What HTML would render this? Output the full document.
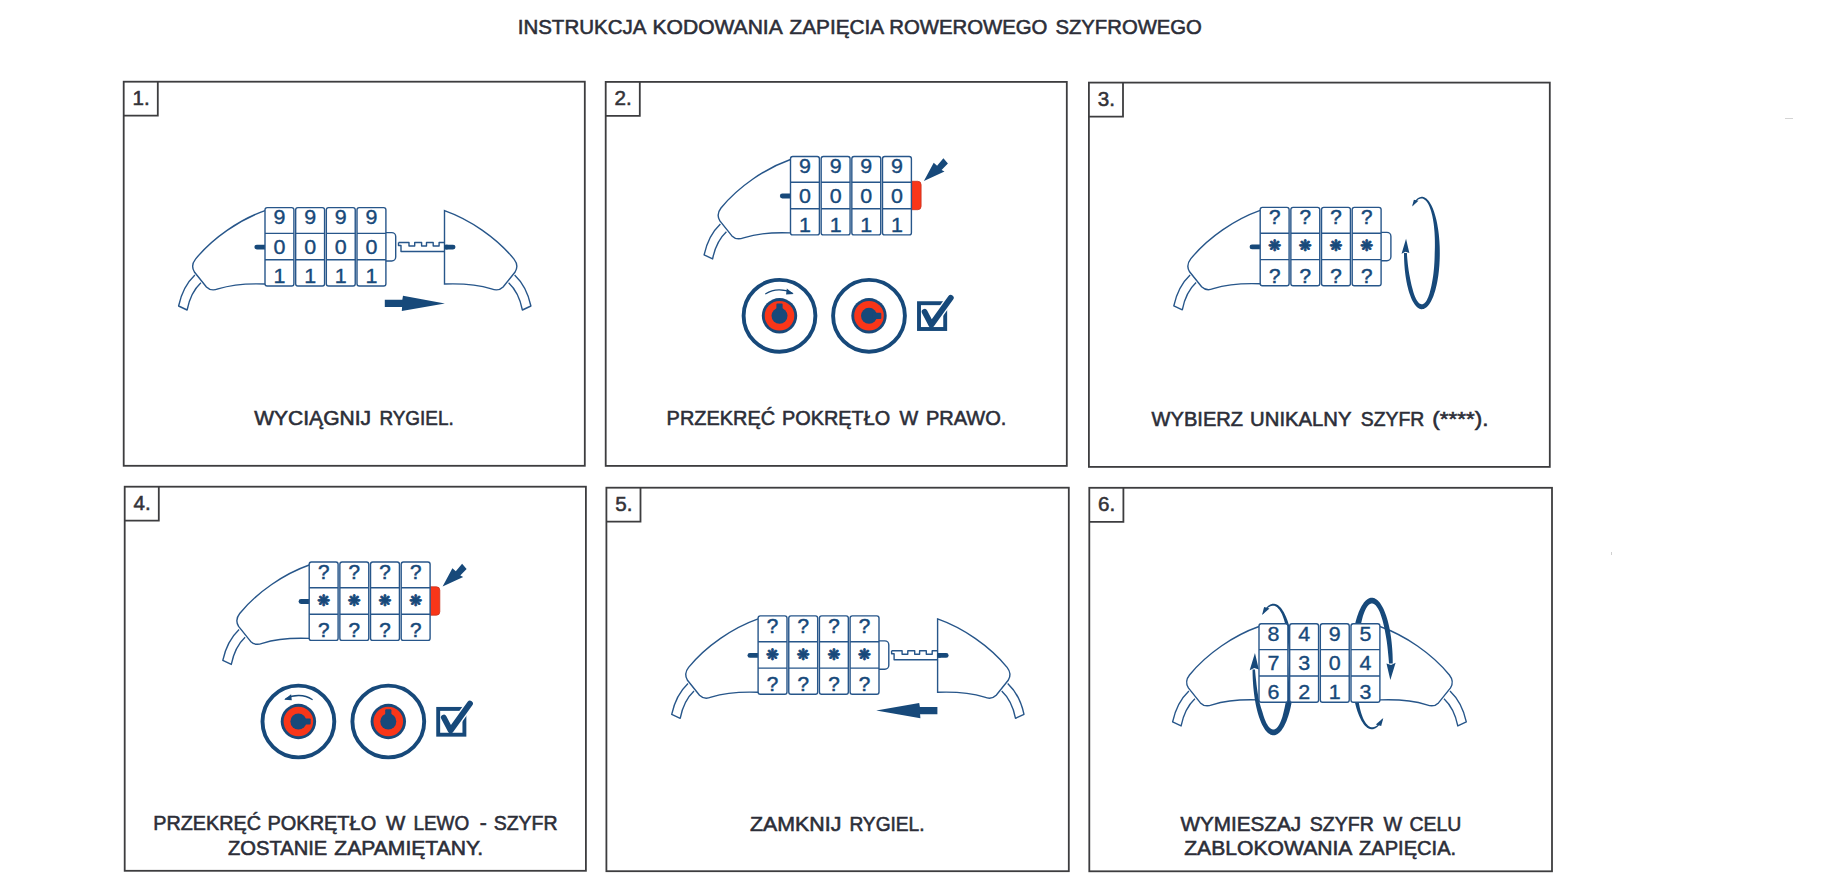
<!DOCTYPE html>
<html lang="pl"><head><meta charset="utf-8"><title>Instrukcja kodowania zapięcia rowerowego szyfrowego</title>
<style>html,body{margin:0;padding:0;background:#fff}body{width:1848px;height:876px;overflow:hidden}svg{display:block}</style>
</head><body>
<svg width="1848" height="876" viewBox="0 0 1848 876" font-family="'Liberation Sans', sans-serif">
<rect width="1848" height="876" fill="#fff"/>
<text y="33.9" font-size="19.8" font-weight="normal" fill="#2c2e38" stroke="#2c2e38" stroke-width="0.55"><tspan x="517.7" textLength="127.6" lengthAdjust="spacingAndGlyphs">INSTRUKCJA</tspan> <tspan x="652.5" textLength="129.1" lengthAdjust="spacingAndGlyphs">KODOWANIA</tspan> <tspan x="789.5" textLength="93.5" lengthAdjust="spacingAndGlyphs">ZAPIĘCIA</tspan> <tspan x="889.2" textLength="158.2" lengthAdjust="spacingAndGlyphs">ROWEROWEGO</tspan> <tspan x="1055.4" textLength="146.5" lengthAdjust="spacingAndGlyphs">SZYFROWEGO</tspan></text>
<rect x="123.7" y="81.7" width="461.1" height="384.1" fill="none" stroke="#3d3d3f" stroke-width="1.8"/>
<path d="M157.8,81.7 v34 h-34.1" fill="none" stroke="#3d3d3f" stroke-width="1.8"/>
<text x="141.1" y="105.1" font-size="20.6" text-anchor="middle" fill="#333338" stroke="#333338" stroke-width="0.55">1.</text>
<rect x="605.7" y="81.9" width="461.1" height="384" fill="none" stroke="#3d3d3f" stroke-width="1.8"/>
<path d="M639.8,81.9 v34 h-34.1" fill="none" stroke="#3d3d3f" stroke-width="1.8"/>
<text x="623.1" y="105.3" font-size="20.6" text-anchor="middle" fill="#333338" stroke="#333338" stroke-width="0.55">2.</text>
<rect x="1088.9" y="82.6" width="460.9" height="384.3" fill="none" stroke="#3d3d3f" stroke-width="1.8"/>
<path d="M1123,82.6 v34 h-34.1" fill="none" stroke="#3d3d3f" stroke-width="1.8"/>
<text x="1106.3" y="106" font-size="20.6" text-anchor="middle" fill="#333338" stroke="#333338" stroke-width="0.55">3.</text>
<rect x="124.7" y="486.7" width="461.2" height="384.1" fill="none" stroke="#3d3d3f" stroke-width="1.8"/>
<path d="M158.8,486.7 v34 h-34.1" fill="none" stroke="#3d3d3f" stroke-width="1.8"/>
<text x="142.1" y="510.1" font-size="20.6" text-anchor="middle" fill="#333338" stroke="#333338" stroke-width="0.55">4.</text>
<rect x="606.4" y="487.7" width="462.4" height="383.5" fill="none" stroke="#3d3d3f" stroke-width="1.8"/>
<path d="M640.5,487.7 v34 h-34.1" fill="none" stroke="#3d3d3f" stroke-width="1.8"/>
<text x="623.8" y="511.1" font-size="20.6" text-anchor="middle" fill="#333338" stroke="#333338" stroke-width="0.55">5.</text>
<rect x="1089.3" y="487.8" width="462.7" height="383.5" fill="none" stroke="#3d3d3f" stroke-width="1.8"/>
<path d="M1123.4,487.8 v34 h-34.1" fill="none" stroke="#3d3d3f" stroke-width="1.8"/>
<text x="1106.7" y="511.2" font-size="20.6" text-anchor="middle" fill="#333338" stroke="#333338" stroke-width="0.55">6.</text>
<g transform="translate(265,207.6)">
<path d="M-70.1,67.5 Q-82.2,78.9 -86.4,98.4 L-77.9,102.4 Q-74.4,84.8 -64.1,75.2" fill="#fff" stroke="#27568a" stroke-width="1.4" stroke-linejoin="round"/>
<path d="M0,3 C-25,11.8 -52,30 -69.5,51.5 Q-74.6,58 -70.6,64.4 L-58.6,79.4 Q-54,84 -47,81.3 C-32,76.6 -15,75.8 0,76.4" fill="#fff" stroke="#27568a" stroke-width="1.4"/>
<path d="M-8.2,39.5 H0" stroke="#17497a" stroke-width="4.8" stroke-linecap="round"/>
<g transform="translate(179.5,0) scale(-1,1)">
<path d="M-70.1,67.5 Q-82.2,78.9 -86.4,98.4 L-77.9,102.4 Q-74.4,84.8 -64.1,75.2" fill="#fff" stroke="#27568a" stroke-width="1.4" stroke-linejoin="round"/>
<path d="M0,3 C-25,11.8 -52,30 -69.5,51.5 Q-74.6,58 -70.6,64.4 L-58.6,79.4 Q-54,84 -47,81.3 C-32,76.6 -15,75.8 0,76.4 Z" fill="#fff" stroke="#27568a" stroke-width="1.4" stroke-linejoin="miter"/>
<path d="M-8.6,39.5 H-2" stroke="#17497a" stroke-width="4.8" stroke-linecap="round"/>
<path d="M-3,39.5 H0" stroke="#17497a" stroke-width="4.8"/>
</g>
<path d="M133.5,34.9 H144 V38.4 H149.7 V34.9 H156.6 V38.4 H161.5 V34.9 H168.2 V38.4 H174.1 V34.9 H179.5 M133.5,34.9 V37.9 H136 V43.9 H179.5" fill="none" stroke="#27568a" stroke-width="1.4" stroke-linejoin="round"/>
<path d="M119.9,25 H126.7 a4,4 0 0 1 4,4 V49.4 a4,4 0 0 1 -4,4 H119.9" fill="#fff" stroke="#27568a" stroke-width="1.4"/>
<rect x="0" y="0" width="28.9" height="78.4" rx="2.2" fill="#fff" stroke="#27568a" stroke-width="1.4"/>
<path d="M0,25.8 h28.9 M0,52.2 h28.9" stroke="#27568a" stroke-width="1.4"/>
<rect x="30.67" y="0" width="28.9" height="78.4" rx="2.2" fill="#fff" stroke="#27568a" stroke-width="1.4"/>
<path d="M30.67,25.8 h28.9 M30.67,52.2 h28.9" stroke="#27568a" stroke-width="1.4"/>
<rect x="61.33" y="0" width="28.9" height="78.4" rx="2.2" fill="#fff" stroke="#27568a" stroke-width="1.4"/>
<path d="M61.33,25.8 h28.9 M61.33,52.2 h28.9" stroke="#27568a" stroke-width="1.4"/>
<rect x="92" y="0" width="28.9" height="78.4" rx="2.2" fill="#fff" stroke="#27568a" stroke-width="1.4"/>
<path d="M92,25.8 h28.9 M92,52.2 h28.9" stroke="#27568a" stroke-width="1.4"/>
<text transform="translate(14.45,16.7) scale(1.1,1)" font-size="19.5" text-anchor="middle" fill="#17497a" stroke="#17497a" stroke-width="0.35">9</text>
<text transform="translate(45.12,16.7) scale(1.1,1)" font-size="19.5" text-anchor="middle" fill="#17497a" stroke="#17497a" stroke-width="0.35">9</text>
<text transform="translate(75.78,16.7) scale(1.1,1)" font-size="19.5" text-anchor="middle" fill="#17497a" stroke="#17497a" stroke-width="0.35">9</text>
<text transform="translate(106.45,16.7) scale(1.1,1)" font-size="19.5" text-anchor="middle" fill="#17497a" stroke="#17497a" stroke-width="0.35">9</text>
<text transform="translate(14.45,46.5) scale(1.1,1)" font-size="19.5" text-anchor="middle" fill="#17497a" stroke="#17497a" stroke-width="0.35">0</text>
<text transform="translate(45.12,46.5) scale(1.1,1)" font-size="19.5" text-anchor="middle" fill="#17497a" stroke="#17497a" stroke-width="0.35">0</text>
<text transform="translate(75.78,46.5) scale(1.1,1)" font-size="19.5" text-anchor="middle" fill="#17497a" stroke="#17497a" stroke-width="0.35">0</text>
<text transform="translate(106.45,46.5) scale(1.1,1)" font-size="19.5" text-anchor="middle" fill="#17497a" stroke="#17497a" stroke-width="0.35">0</text>
<text transform="translate(14.45,75.4) scale(1.1,1)" font-size="19.5" text-anchor="middle" fill="#17497a" stroke="#17497a" stroke-width="0.35">1</text>
<text transform="translate(45.12,75.4) scale(1.1,1)" font-size="19.5" text-anchor="middle" fill="#17497a" stroke="#17497a" stroke-width="0.35">1</text>
<text transform="translate(75.78,75.4) scale(1.1,1)" font-size="19.5" text-anchor="middle" fill="#17497a" stroke="#17497a" stroke-width="0.35">1</text>
<text transform="translate(106.45,75.4) scale(1.1,1)" font-size="19.5" text-anchor="middle" fill="#17497a" stroke="#17497a" stroke-width="0.35">1</text>
<polygon points="119.8,92.1 137.3,92.1 138,88.2 179.9,95.8 136.8,103.4 137.1,99.5 119.8,99.5" fill="#17497a"/>
</g>
<text y="425" font-size="19.3" font-weight="normal" fill="#2c2e38" stroke="#2c2e38" stroke-width="0.55"><tspan x="254.2" textLength="116.9" lengthAdjust="spacingAndGlyphs">WYCIĄGNIJ</tspan> <tspan x="379.4" textLength="74.3" lengthAdjust="spacingAndGlyphs">RYGIEL.</tspan></text>
<g transform="translate(790.5,156.5)">
<path d="M-70.1,67.5 Q-82.2,78.9 -86.4,98.4 L-77.9,102.4 Q-74.4,84.8 -64.1,75.2" fill="#fff" stroke="#27568a" stroke-width="1.4" stroke-linejoin="round"/>
<path d="M0,3 C-25,11.8 -52,30 -69.5,51.5 Q-74.6,58 -70.6,64.4 L-58.6,79.4 Q-54,84 -47,81.3 C-32,76.6 -15,75.8 0,76.4" fill="#fff" stroke="#27568a" stroke-width="1.4"/>
<path d="M-8.2,39.5 H0" stroke="#17497a" stroke-width="4.8" stroke-linecap="round"/>
<path d="M119.9,24.8 H127.2 a3.4,3.4 0 0 1 3.4,3.4 V49.8 a3.4,3.4 0 0 1 -3.4,3.4 H119.9 Z" fill="#f93619" stroke="#c8321f" stroke-width="0.8"/>
<rect x="0" y="0" width="28.9" height="78.4" rx="2.2" fill="#fff" stroke="#27568a" stroke-width="1.4"/>
<path d="M0,25.8 h28.9 M0,52.2 h28.9" stroke="#27568a" stroke-width="1.4"/>
<rect x="30.67" y="0" width="28.9" height="78.4" rx="2.2" fill="#fff" stroke="#27568a" stroke-width="1.4"/>
<path d="M30.67,25.8 h28.9 M30.67,52.2 h28.9" stroke="#27568a" stroke-width="1.4"/>
<rect x="61.33" y="0" width="28.9" height="78.4" rx="2.2" fill="#fff" stroke="#27568a" stroke-width="1.4"/>
<path d="M61.33,25.8 h28.9 M61.33,52.2 h28.9" stroke="#27568a" stroke-width="1.4"/>
<rect x="92" y="0" width="28.9" height="78.4" rx="2.2" fill="#fff" stroke="#27568a" stroke-width="1.4"/>
<path d="M92,25.8 h28.9 M92,52.2 h28.9" stroke="#27568a" stroke-width="1.4"/>
<text transform="translate(14.45,16.7) scale(1.1,1)" font-size="19.5" text-anchor="middle" fill="#17497a" stroke="#17497a" stroke-width="0.35">9</text>
<text transform="translate(45.12,16.7) scale(1.1,1)" font-size="19.5" text-anchor="middle" fill="#17497a" stroke="#17497a" stroke-width="0.35">9</text>
<text transform="translate(75.78,16.7) scale(1.1,1)" font-size="19.5" text-anchor="middle" fill="#17497a" stroke="#17497a" stroke-width="0.35">9</text>
<text transform="translate(106.45,16.7) scale(1.1,1)" font-size="19.5" text-anchor="middle" fill="#17497a" stroke="#17497a" stroke-width="0.35">9</text>
<text transform="translate(14.45,46.5) scale(1.1,1)" font-size="19.5" text-anchor="middle" fill="#17497a" stroke="#17497a" stroke-width="0.35">0</text>
<text transform="translate(45.12,46.5) scale(1.1,1)" font-size="19.5" text-anchor="middle" fill="#17497a" stroke="#17497a" stroke-width="0.35">0</text>
<text transform="translate(75.78,46.5) scale(1.1,1)" font-size="19.5" text-anchor="middle" fill="#17497a" stroke="#17497a" stroke-width="0.35">0</text>
<text transform="translate(106.45,46.5) scale(1.1,1)" font-size="19.5" text-anchor="middle" fill="#17497a" stroke="#17497a" stroke-width="0.35">0</text>
<text transform="translate(14.45,75.4) scale(1.1,1)" font-size="19.5" text-anchor="middle" fill="#17497a" stroke="#17497a" stroke-width="0.35">1</text>
<text transform="translate(45.12,75.4) scale(1.1,1)" font-size="19.5" text-anchor="middle" fill="#17497a" stroke="#17497a" stroke-width="0.35">1</text>
<text transform="translate(75.78,75.4) scale(1.1,1)" font-size="19.5" text-anchor="middle" fill="#17497a" stroke="#17497a" stroke-width="0.35">1</text>
<text transform="translate(106.45,75.4) scale(1.1,1)" font-size="19.5" text-anchor="middle" fill="#17497a" stroke="#17497a" stroke-width="0.35">1</text>
<polygon points="133.4,24.4 143.2,6.3 146.6,9.2 152.9,1.8 157.4,6.9 151.1,13.4 154,14.9" fill="#17497a"/>
<g transform="translate(-11,159.3)">
<circle r="35.9" fill="#fff" stroke="#17497a" stroke-width="3.9"/>
<circle r="17.7" fill="#17497a"/>
<circle r="14.8" fill="#f93619"/>
<g transform="rotate(0)"><circle r="8" fill="#17497a"/><rect x="-3.1" y="-12.3" width="6.2" height="9" rx="1" fill="#17497a"/></g>
<g><path d="M-13.78,-22.05 A26,26 0 0 1 12.61,-22.74" fill="none" stroke="#17497a" stroke-width="1.3" stroke-linecap="round"/>
<polygon points="14.2,-21.8 7.3,-27.2 6.6,-21.2" fill="#17497a"/></g>
</g>
<g transform="translate(78.5,159.3)">
<circle r="35.9" fill="#fff" stroke="#17497a" stroke-width="3.9"/>
<circle r="17.7" fill="#17497a"/>
<circle r="14.8" fill="#f93619"/>
<g transform="rotate(90)"><circle r="8" fill="#17497a"/><rect x="-3.1" y="-12.3" width="6.2" height="9" rx="1" fill="#17497a"/></g>
</g>
<g transform="translate(126.5,144.7)">
<rect x="2" y="2" width="26.2" height="25.8" fill="#fff" stroke="#17497a" stroke-width="3.9"/>
<path d="M21.6,13.6 L33.8,-3.4" fill="none" stroke="#fff" stroke-width="8.6" stroke-linecap="round"/>
<path d="M7.6,10.6 L14.4,23.6 L33.8,-3.4" fill="none" stroke="#17497a" stroke-width="5.8" stroke-linecap="round" stroke-linejoin="round"/>
</g>
</g>
<text y="425" font-size="19.3" font-weight="normal" fill="#2c2e38" stroke="#2c2e38" stroke-width="0.55"><tspan x="666.6" textLength="108.5" lengthAdjust="spacingAndGlyphs">PRZEKRĘĆ</tspan> <tspan x="782.1" textLength="108.1" lengthAdjust="spacingAndGlyphs">POKRĘTŁO</tspan> <tspan x="899.6" textLength="18.7" lengthAdjust="spacingAndGlyphs">W</tspan> <tspan x="925.9" textLength="80.5" lengthAdjust="spacingAndGlyphs">PRAWO.</tspan></text>
<g transform="translate(1260.2,207.4)">
<path d="M-70.1,67.5 Q-82.2,78.9 -86.4,98.4 L-77.9,102.4 Q-74.4,84.8 -64.1,75.2" fill="#fff" stroke="#27568a" stroke-width="1.4" stroke-linejoin="round"/>
<path d="M0,3 C-25,11.8 -52,30 -69.5,51.5 Q-74.6,58 -70.6,64.4 L-58.6,79.4 Q-54,84 -47,81.3 C-32,76.6 -15,75.8 0,76.4" fill="#fff" stroke="#27568a" stroke-width="1.4"/>
<path d="M-8.2,39.5 H0" stroke="#17497a" stroke-width="4.8" stroke-linecap="round"/>
<path d="M119.9,25 H126.7 a4,4 0 0 1 4,4 V49.4 a4,4 0 0 1 -4,4 H119.9" fill="#fff" stroke="#27568a" stroke-width="1.4"/>
<rect x="0" y="0" width="28.9" height="78.4" rx="2.2" fill="#fff" stroke="#27568a" stroke-width="1.4"/>
<path d="M0,25.8 h28.9 M0,52.2 h28.9" stroke="#27568a" stroke-width="1.4"/>
<rect x="30.67" y="0" width="28.9" height="78.4" rx="2.2" fill="#fff" stroke="#27568a" stroke-width="1.4"/>
<path d="M30.67,25.8 h28.9 M30.67,52.2 h28.9" stroke="#27568a" stroke-width="1.4"/>
<rect x="61.33" y="0" width="28.9" height="78.4" rx="2.2" fill="#fff" stroke="#27568a" stroke-width="1.4"/>
<path d="M61.33,25.8 h28.9 M61.33,52.2 h28.9" stroke="#27568a" stroke-width="1.4"/>
<rect x="92" y="0" width="28.9" height="78.4" rx="2.2" fill="#fff" stroke="#27568a" stroke-width="1.4"/>
<path d="M92,25.8 h28.9 M92,52.2 h28.9" stroke="#27568a" stroke-width="1.4"/>
<text transform="translate(14.45,16.7) scale(1.06,1)" font-size="19.5" text-anchor="middle" fill="#17497a" stroke="#17497a" stroke-width="0.5">?</text>
<text transform="translate(45.12,16.7) scale(1.06,1)" font-size="19.5" text-anchor="middle" fill="#17497a" stroke="#17497a" stroke-width="0.5">?</text>
<text transform="translate(75.78,16.7) scale(1.06,1)" font-size="19.5" text-anchor="middle" fill="#17497a" stroke="#17497a" stroke-width="0.5">?</text>
<text transform="translate(106.45,16.7) scale(1.06,1)" font-size="19.5" text-anchor="middle" fill="#17497a" stroke="#17497a" stroke-width="0.5">?</text>
<text x="14.45" y="44.1" font-family="'DejaVu Sans', sans-serif" font-weight="bold" font-size="15.4" text-anchor="middle" fill="#17497a" stroke="#17497a" stroke-width="0.85" stroke-linejoin="round">&#10059;</text>
<text x="45.12" y="44.1" font-family="'DejaVu Sans', sans-serif" font-weight="bold" font-size="15.4" text-anchor="middle" fill="#17497a" stroke="#17497a" stroke-width="0.85" stroke-linejoin="round">&#10059;</text>
<text x="75.78" y="44.1" font-family="'DejaVu Sans', sans-serif" font-weight="bold" font-size="15.4" text-anchor="middle" fill="#17497a" stroke="#17497a" stroke-width="0.85" stroke-linejoin="round">&#10059;</text>
<text x="106.45" y="44.1" font-family="'DejaVu Sans', sans-serif" font-weight="bold" font-size="15.4" text-anchor="middle" fill="#17497a" stroke="#17497a" stroke-width="0.85" stroke-linejoin="round">&#10059;</text>
<text transform="translate(14.45,75.4) scale(1.06,1)" font-size="19.5" text-anchor="middle" fill="#17497a" stroke="#17497a" stroke-width="0.5">?</text>
<text transform="translate(45.12,75.4) scale(1.06,1)" font-size="19.5" text-anchor="middle" fill="#17497a" stroke="#17497a" stroke-width="0.5">?</text>
<text transform="translate(75.78,75.4) scale(1.06,1)" font-size="19.5" text-anchor="middle" fill="#17497a" stroke="#17497a" stroke-width="0.5">?</text>
<text transform="translate(106.45,75.4) scale(1.06,1)" font-size="19.5" text-anchor="middle" fill="#17497a" stroke="#17497a" stroke-width="0.5">?</text>
</g>
<g transform="translate(1421.9,253)" fill="#17497a">
<polygon points="-9.22,-48.17 -8.48,-49.5 -7.71,-50.71 -6.93,-51.81 -6.14,-52.79 -5.33,-53.65 -4.51,-54.39 -3.67,-55 -2.83,-55.49 -1.99,-55.85 -1.14,-56.09 -0.28,-56.19 0.57,-56.17 1.43,-56.02 2.28,-55.74 3.12,-55.34 3.96,-54.81 4.79,-54.15 5.61,-53.37 6.41,-52.47 7.2,-51.45 7.98,-50.31 8.73,-49.06 9.47,-47.69 10.18,-46.22 10.87,-44.64 11.54,-42.96 12.18,-41.18 12.79,-39.31 13.38,-37.35 13.93,-35.3 14.45,-33.17 14.94,-30.97 15.39,-28.69 15.81,-26.35 16.19,-23.95 16.54,-21.5 16.85,-19 17.12,-16.45 17.35,-13.86 17.54,-11.25 17.69,-8.61 17.8,-5.95 17.87,-3.27 17.9,-0.59 17.89,2.1 17.84,4.77 17.74,7.44 17.61,10.09 17.44,12.72 17.22,15.32 16.97,17.88 16.68,20.41 16.35,22.88 15.98,25.31 15.58,27.67 15.14,29.98 14.67,32.21 14.16,34.37 13.62,36.46 13.05,38.46 12.45,40.37 11.82,42.19 11.17,43.92 10.49,45.54 9.78,47.06 9.06,48.47 8.31,49.78 7.54,50.96 6.76,52.04 5.96,52.99 5.15,53.82 4.32,54.53 3.49,55.12 2.65,55.58 1.8,55.91 0.95,56.12 0.09,56.2 -0.76,56.15 -1.61,55.97 -2.46,55.67 -3.31,55.23 -4.14,54.67 -4.97,53.99 -5.78,53.18 -6.59,52.26 -7.37,51.21 -8.14,50.05 -8.9,48.77 -9.63,47.38 -10.34,45.88 -11.02,44.28 -11.68,42.58 -12.32,40.78 -12.92,38.89 -13.5,36.9 -14.05,34.84 -14.56,32.69 -15.04,30.47 -15.49,28.18 -15.9,25.83 -16.27,23.42 -16.61,20.95 -16.91,18.44 -17.17,15.88 -17.39,13.29 -17.57,10.67 -17.72,8.02 -17.82,5.36 -17.88,2.68 -17.9,0 -15,0 -14.85,2.54 -14.66,5.06 -14.44,7.55 -14.19,10.02 -13.91,12.45 -13.6,14.83 -13.26,17.17 -12.9,19.46 -12.52,21.7 -12.11,23.87 -11.68,25.98 -11.28,28.05 -10.86,30.05 -10.42,31.97 -9.96,33.82 -9.48,35.59 -9.01,37.29 -8.54,38.93 -8.06,40.49 -7.55,41.95 -7.03,43.31 -6.49,44.57 -5.94,45.74 -5.38,46.79 -4.8,47.75 -4.21,48.59 -3.62,49.32 -3.02,49.94 -2.41,50.44 -1.79,50.83 -1.17,51.1 -0.55,51.26 0.07,51.3 0.69,51.19 1.3,50.96 1.91,50.62 2.51,50.17 3.1,49.6 3.68,48.92 4.24,48.13 4.8,47.23 5.34,46.22 5.86,45.11 6.37,43.9 6.86,42.59 7.34,41.18 7.79,39.68 8.22,38.1 8.64,36.43 9.05,34.71 9.47,32.92 9.86,31.05 10.23,29.11 10.58,27.1 10.91,25.03 11.22,22.9 11.5,20.72 11.75,18.49 11.98,16.21 12.18,13.89 12.35,11.54 12.5,9.16 12.62,6.76 12.71,4.34 12.77,1.9 12.82,-0.54 12.91,-2.98 12.97,-5.43 13,-7.88 12.99,-10.32 12.96,-12.75 12.89,-15.15 12.79,-17.54 12.66,-19.89 12.49,-22.21 12.29,-24.49 12.06,-26.72 11.8,-28.89 11.5,-31.01 11.17,-33.07 10.81,-35.06 10.42,-36.98 9.99,-38.83 9.54,-40.59 9.05,-42.26 8.54,-43.85 8,-45.34 7.43,-46.72 6.83,-48 6.2,-49.17 5.55,-50.23 4.88,-51.18 4.2,-52.01 3.49,-52.73 2.77,-53.33 2.03,-53.82 1.28,-54.17 0.52,-54.41 -0.25,-54.52 -1.03,-54.48 -1.82,-54.33 -2.6,-54.04 -3.39,-53.64 -4.17,-53.11 -4.96,-52.46 -5.73,-51.68 -6.5,-50.79 -7.27,-49.77 -8.02,-48.64 -8.76,-47.4"/>
<polygon points="-20.35,0.7 -15.85,-14.2 -12.55,0 -16.45,-1.2"/>
<polygon points="-9.82,-46.57 -8.02,-53.37 -3.42,-52.17"/>
</g>
<text y="426" font-size="19.3" font-weight="normal" fill="#2c2e38" stroke="#2c2e38" stroke-width="0.55"><tspan x="1151.6" textLength="91.5" lengthAdjust="spacingAndGlyphs">WYBIERZ</tspan> <tspan x="1250.1" textLength="101.1" lengthAdjust="spacingAndGlyphs">UNIKALNY</tspan> <tspan x="1360.8" textLength="63.5" lengthAdjust="spacingAndGlyphs">SZYFR</tspan> <tspan x="1432.3" textLength="56.1" lengthAdjust="spacingAndGlyphs">(****).</tspan></text>
<g transform="translate(309.2,562.0)">
<path d="M-70.1,67.5 Q-82.2,78.9 -86.4,98.4 L-77.9,102.4 Q-74.4,84.8 -64.1,75.2" fill="#fff" stroke="#27568a" stroke-width="1.4" stroke-linejoin="round"/>
<path d="M0,3 C-25,11.8 -52,30 -69.5,51.5 Q-74.6,58 -70.6,64.4 L-58.6,79.4 Q-54,84 -47,81.3 C-32,76.6 -15,75.8 0,76.4" fill="#fff" stroke="#27568a" stroke-width="1.4"/>
<path d="M-8.2,39.5 H0" stroke="#17497a" stroke-width="4.8" stroke-linecap="round"/>
<path d="M119.9,24.8 H127.2 a3.4,3.4 0 0 1 3.4,3.4 V49.8 a3.4,3.4 0 0 1 -3.4,3.4 H119.9 Z" fill="#f93619" stroke="#c8321f" stroke-width="0.8"/>
<rect x="0" y="0" width="28.9" height="78.4" rx="2.2" fill="#fff" stroke="#27568a" stroke-width="1.4"/>
<path d="M0,25.8 h28.9 M0,52.2 h28.9" stroke="#27568a" stroke-width="1.4"/>
<rect x="30.67" y="0" width="28.9" height="78.4" rx="2.2" fill="#fff" stroke="#27568a" stroke-width="1.4"/>
<path d="M30.67,25.8 h28.9 M30.67,52.2 h28.9" stroke="#27568a" stroke-width="1.4"/>
<rect x="61.33" y="0" width="28.9" height="78.4" rx="2.2" fill="#fff" stroke="#27568a" stroke-width="1.4"/>
<path d="M61.33,25.8 h28.9 M61.33,52.2 h28.9" stroke="#27568a" stroke-width="1.4"/>
<rect x="92" y="0" width="28.9" height="78.4" rx="2.2" fill="#fff" stroke="#27568a" stroke-width="1.4"/>
<path d="M92,25.8 h28.9 M92,52.2 h28.9" stroke="#27568a" stroke-width="1.4"/>
<text transform="translate(14.45,16.7) scale(1.06,1)" font-size="19.5" text-anchor="middle" fill="#17497a" stroke="#17497a" stroke-width="0.5">?</text>
<text transform="translate(45.12,16.7) scale(1.06,1)" font-size="19.5" text-anchor="middle" fill="#17497a" stroke="#17497a" stroke-width="0.5">?</text>
<text transform="translate(75.78,16.7) scale(1.06,1)" font-size="19.5" text-anchor="middle" fill="#17497a" stroke="#17497a" stroke-width="0.5">?</text>
<text transform="translate(106.45,16.7) scale(1.06,1)" font-size="19.5" text-anchor="middle" fill="#17497a" stroke="#17497a" stroke-width="0.5">?</text>
<text x="14.45" y="44.1" font-family="'DejaVu Sans', sans-serif" font-weight="bold" font-size="15.4" text-anchor="middle" fill="#17497a" stroke="#17497a" stroke-width="0.85" stroke-linejoin="round">&#10059;</text>
<text x="45.12" y="44.1" font-family="'DejaVu Sans', sans-serif" font-weight="bold" font-size="15.4" text-anchor="middle" fill="#17497a" stroke="#17497a" stroke-width="0.85" stroke-linejoin="round">&#10059;</text>
<text x="75.78" y="44.1" font-family="'DejaVu Sans', sans-serif" font-weight="bold" font-size="15.4" text-anchor="middle" fill="#17497a" stroke="#17497a" stroke-width="0.85" stroke-linejoin="round">&#10059;</text>
<text x="106.45" y="44.1" font-family="'DejaVu Sans', sans-serif" font-weight="bold" font-size="15.4" text-anchor="middle" fill="#17497a" stroke="#17497a" stroke-width="0.85" stroke-linejoin="round">&#10059;</text>
<text transform="translate(14.45,75.4) scale(1.06,1)" font-size="19.5" text-anchor="middle" fill="#17497a" stroke="#17497a" stroke-width="0.5">?</text>
<text transform="translate(45.12,75.4) scale(1.06,1)" font-size="19.5" text-anchor="middle" fill="#17497a" stroke="#17497a" stroke-width="0.5">?</text>
<text transform="translate(75.78,75.4) scale(1.06,1)" font-size="19.5" text-anchor="middle" fill="#17497a" stroke="#17497a" stroke-width="0.5">?</text>
<text transform="translate(106.45,75.4) scale(1.06,1)" font-size="19.5" text-anchor="middle" fill="#17497a" stroke="#17497a" stroke-width="0.5">?</text>
<polygon points="133.4,24.4 143.2,6.3 146.6,9.2 152.9,1.8 157.4,6.9 151.1,13.4 154,14.9" fill="#17497a"/>
<g transform="translate(-10.8,159.5)">
<circle r="35.9" fill="#fff" stroke="#17497a" stroke-width="3.9"/>
<circle r="17.7" fill="#17497a"/>
<circle r="14.8" fill="#f93619"/>
<g transform="rotate(90)"><circle r="8" fill="#17497a"/><rect x="-3.1" y="-12.3" width="6.2" height="9" rx="1" fill="#17497a"/></g>
<g transform="scale(-1,1)"><path d="M-13.78,-22.05 A26,26 0 0 1 12.61,-22.74" fill="none" stroke="#17497a" stroke-width="1.3" stroke-linecap="round"/>
<polygon points="14.2,-21.8 7.3,-27.2 6.6,-21.2" fill="#17497a"/></g>
</g>
<g transform="translate(79.1,159.5)">
<circle r="35.9" fill="#fff" stroke="#17497a" stroke-width="3.9"/>
<circle r="17.7" fill="#17497a"/>
<circle r="14.8" fill="#f93619"/>
<g transform="rotate(0)"><circle r="8" fill="#17497a"/><rect x="-3.1" y="-12.3" width="6.2" height="9" rx="1" fill="#17497a"/></g>
</g>
<g transform="translate(127,144.9)">
<rect x="2" y="2" width="26.2" height="25.8" fill="#fff" stroke="#17497a" stroke-width="3.9"/>
<path d="M21.6,13.6 L33.8,-3.4" fill="none" stroke="#fff" stroke-width="8.6" stroke-linecap="round"/>
<path d="M7.6,10.6 L14.4,23.6 L33.8,-3.4" fill="none" stroke="#17497a" stroke-width="5.8" stroke-linecap="round" stroke-linejoin="round"/>
</g>
</g>
<text y="830.1" font-size="19.3" font-weight="normal" fill="#2c2e38" stroke="#2c2e38" stroke-width="0.55"><tspan x="153.3" textLength="107.7" lengthAdjust="spacingAndGlyphs">PRZEKRĘĆ</tspan> <tspan x="267.5" textLength="108.7" lengthAdjust="spacingAndGlyphs">POKRĘTŁO</tspan> <tspan x="385.9" textLength="19.3" lengthAdjust="spacingAndGlyphs">W</tspan> <tspan x="413.4" textLength="55.8" lengthAdjust="spacingAndGlyphs">LEWO</tspan> <tspan x="479.7" textLength="7" lengthAdjust="spacingAndGlyphs">-</tspan> <tspan x="493.7" textLength="63.9" lengthAdjust="spacingAndGlyphs">SZYFR</tspan></text>
<text y="855" font-size="19.3" font-weight="normal" fill="#2c2e38" stroke="#2c2e38" stroke-width="0.55"><tspan x="228" textLength="99.3" lengthAdjust="spacingAndGlyphs">ZOSTANIE</tspan> <tspan x="334.3" textLength="148.9" lengthAdjust="spacingAndGlyphs">ZAPAMIĘTANY.</tspan></text>
<g transform="translate(758.1,615.9)">
<path d="M-70.1,67.5 Q-82.2,78.9 -86.4,98.4 L-77.9,102.4 Q-74.4,84.8 -64.1,75.2" fill="#fff" stroke="#27568a" stroke-width="1.4" stroke-linejoin="round"/>
<path d="M0,3 C-25,11.8 -52,30 -69.5,51.5 Q-74.6,58 -70.6,64.4 L-58.6,79.4 Q-54,84 -47,81.3 C-32,76.6 -15,75.8 0,76.4" fill="#fff" stroke="#27568a" stroke-width="1.4"/>
<path d="M-8.2,39.5 H0" stroke="#17497a" stroke-width="4.8" stroke-linecap="round"/>
<g transform="translate(179.5,0) scale(-1,1)">
<path d="M-70.1,67.5 Q-82.2,78.9 -86.4,98.4 L-77.9,102.4 Q-74.4,84.8 -64.1,75.2" fill="#fff" stroke="#27568a" stroke-width="1.4" stroke-linejoin="round"/>
<path d="M0,3 C-25,11.8 -52,30 -69.5,51.5 Q-74.6,58 -70.6,64.4 L-58.6,79.4 Q-54,84 -47,81.3 C-32,76.6 -15,75.8 0,76.4 Z" fill="#fff" stroke="#27568a" stroke-width="1.4" stroke-linejoin="miter"/>
<path d="M-8.6,39.5 H-2" stroke="#17497a" stroke-width="4.8" stroke-linecap="round"/>
<path d="M-3,39.5 H0" stroke="#17497a" stroke-width="4.8"/>
</g>
<path d="M133.5,34.9 H144 V38.4 H149.7 V34.9 H156.6 V38.4 H161.5 V34.9 H168.2 V38.4 H174.1 V34.9 H179.5 M133.5,34.9 V37.9 H136 V43.9 H179.5" fill="none" stroke="#27568a" stroke-width="1.4" stroke-linejoin="round"/>
<path d="M119.9,25 H126.7 a4,4 0 0 1 4,4 V49.4 a4,4 0 0 1 -4,4 H119.9" fill="#fff" stroke="#27568a" stroke-width="1.4"/>
<rect x="0" y="0" width="28.9" height="78.4" rx="2.2" fill="#fff" stroke="#27568a" stroke-width="1.4"/>
<path d="M0,25.8 h28.9 M0,52.2 h28.9" stroke="#27568a" stroke-width="1.4"/>
<rect x="30.67" y="0" width="28.9" height="78.4" rx="2.2" fill="#fff" stroke="#27568a" stroke-width="1.4"/>
<path d="M30.67,25.8 h28.9 M30.67,52.2 h28.9" stroke="#27568a" stroke-width="1.4"/>
<rect x="61.33" y="0" width="28.9" height="78.4" rx="2.2" fill="#fff" stroke="#27568a" stroke-width="1.4"/>
<path d="M61.33,25.8 h28.9 M61.33,52.2 h28.9" stroke="#27568a" stroke-width="1.4"/>
<rect x="92" y="0" width="28.9" height="78.4" rx="2.2" fill="#fff" stroke="#27568a" stroke-width="1.4"/>
<path d="M92,25.8 h28.9 M92,52.2 h28.9" stroke="#27568a" stroke-width="1.4"/>
<text transform="translate(14.45,16.7) scale(1.06,1)" font-size="19.5" text-anchor="middle" fill="#17497a" stroke="#17497a" stroke-width="0.5">?</text>
<text transform="translate(45.12,16.7) scale(1.06,1)" font-size="19.5" text-anchor="middle" fill="#17497a" stroke="#17497a" stroke-width="0.5">?</text>
<text transform="translate(75.78,16.7) scale(1.06,1)" font-size="19.5" text-anchor="middle" fill="#17497a" stroke="#17497a" stroke-width="0.5">?</text>
<text transform="translate(106.45,16.7) scale(1.06,1)" font-size="19.5" text-anchor="middle" fill="#17497a" stroke="#17497a" stroke-width="0.5">?</text>
<text x="14.45" y="44.1" font-family="'DejaVu Sans', sans-serif" font-weight="bold" font-size="15.4" text-anchor="middle" fill="#17497a" stroke="#17497a" stroke-width="0.85" stroke-linejoin="round">&#10059;</text>
<text x="45.12" y="44.1" font-family="'DejaVu Sans', sans-serif" font-weight="bold" font-size="15.4" text-anchor="middle" fill="#17497a" stroke="#17497a" stroke-width="0.85" stroke-linejoin="round">&#10059;</text>
<text x="75.78" y="44.1" font-family="'DejaVu Sans', sans-serif" font-weight="bold" font-size="15.4" text-anchor="middle" fill="#17497a" stroke="#17497a" stroke-width="0.85" stroke-linejoin="round">&#10059;</text>
<text x="106.45" y="44.1" font-family="'DejaVu Sans', sans-serif" font-weight="bold" font-size="15.4" text-anchor="middle" fill="#17497a" stroke="#17497a" stroke-width="0.85" stroke-linejoin="round">&#10059;</text>
<text transform="translate(14.45,75.4) scale(1.06,1)" font-size="19.5" text-anchor="middle" fill="#17497a" stroke="#17497a" stroke-width="0.5">?</text>
<text transform="translate(45.12,75.4) scale(1.06,1)" font-size="19.5" text-anchor="middle" fill="#17497a" stroke="#17497a" stroke-width="0.5">?</text>
<text transform="translate(75.78,75.4) scale(1.06,1)" font-size="19.5" text-anchor="middle" fill="#17497a" stroke="#17497a" stroke-width="0.5">?</text>
<text transform="translate(106.45,75.4) scale(1.06,1)" font-size="19.5" text-anchor="middle" fill="#17497a" stroke="#17497a" stroke-width="0.5">?</text>
<polygon points="179.3,91 161.8,91 161.1,87.1 118.1,94.7 162.3,102.3 162,98.4 179.3,98.4" fill="#17497a"/>
</g>
<text y="831.2" font-size="19.3" font-weight="normal" fill="#2c2e38" stroke="#2c2e38" stroke-width="0.55"><tspan x="750" textLength="91.3" lengthAdjust="spacingAndGlyphs">ZAMKNIJ</tspan> <tspan x="849.4" textLength="75.2" lengthAdjust="spacingAndGlyphs">RYGIEL.</tspan></text>
<g transform="translate(1259.0,623.5)">
<path d="M-70.1,67.5 Q-82.2,78.9 -86.4,98.4 L-77.9,102.4 Q-74.4,84.8 -64.1,75.2" fill="#fff" stroke="#27568a" stroke-width="1.4" stroke-linejoin="round"/>
<path d="M0,3 C-25,11.8 -52,30 -69.5,51.5 Q-74.6,58 -70.6,64.4 L-58.6,79.4 Q-54,84 -47,81.3 C-32,76.6 -15,75.8 0,76.4" fill="#fff" stroke="#27568a" stroke-width="1.4"/>
<g transform="translate(120.9,0) scale(-1,1)">
<path d="M-70.1,67.5 Q-82.2,78.9 -86.4,98.4 L-77.9,102.4 Q-74.4,84.8 -64.1,75.2" fill="#fff" stroke="#27568a" stroke-width="1.4" stroke-linejoin="round"/>
<path d="M0,3 C-25,11.8 -52,30 -69.5,51.5 Q-74.6,58 -70.6,64.4 L-58.6,79.4 Q-54,84 -47,81.3 C-32,76.6 -15,75.8 0,76.4" fill="#fff" stroke="#27568a" stroke-width="1.4" stroke-linejoin="miter"/>
</g>
</g>
<g transform="translate(1273.5,669.5) scale(1.17)" fill="#17497a">
<polygon points="-9.22,-48.17 -8.48,-49.5 -7.71,-50.71 -6.93,-51.81 -6.14,-52.79 -5.33,-53.65 -4.51,-54.39 -3.67,-55 -2.83,-55.49 -1.99,-55.85 -1.14,-56.09 -0.28,-56.19 0.57,-56.17 1.43,-56.02 2.28,-55.74 3.12,-55.34 3.96,-54.81 4.79,-54.15 5.61,-53.37 6.41,-52.47 7.2,-51.45 7.98,-50.31 8.73,-49.06 9.47,-47.69 10.18,-46.22 10.87,-44.64 11.54,-42.96 12.18,-41.18 12.79,-39.31 13.38,-37.35 13.93,-35.3 14.45,-33.17 14.94,-30.97 15.39,-28.69 15.81,-26.35 16.19,-23.95 16.54,-21.5 16.85,-19 17.12,-16.45 17.35,-13.86 17.54,-11.25 17.69,-8.61 17.8,-5.95 17.87,-3.27 17.9,-0.59 17.89,2.1 17.84,4.77 17.74,7.44 17.61,10.09 17.44,12.72 17.22,15.32 16.97,17.88 16.68,20.41 16.35,22.88 15.98,25.31 15.58,27.67 15.14,29.98 14.67,32.21 14.16,34.37 13.62,36.46 13.05,38.46 12.45,40.37 11.82,42.19 11.17,43.92 10.49,45.54 9.78,47.06 9.06,48.47 8.31,49.78 7.54,50.96 6.76,52.04 5.96,52.99 5.15,53.82 4.32,54.53 3.49,55.12 2.65,55.58 1.8,55.91 0.95,56.12 0.09,56.2 -0.76,56.15 -1.61,55.97 -2.46,55.67 -3.31,55.23 -4.14,54.67 -4.97,53.99 -5.78,53.18 -6.59,52.26 -7.37,51.21 -8.14,50.05 -8.9,48.77 -9.63,47.38 -10.34,45.88 -11.02,44.28 -11.68,42.58 -12.32,40.78 -12.92,38.89 -13.5,36.9 -14.05,34.84 -14.56,32.69 -15.04,30.47 -15.49,28.18 -15.9,25.83 -16.27,23.42 -16.61,20.95 -16.91,18.44 -17.17,15.88 -17.39,13.29 -17.57,10.67 -17.72,8.02 -17.82,5.36 -17.88,2.68 -17.9,0 -15.8,0 -15.59,2.57 -15.35,5.12 -15.07,7.64 -14.79,10.13 -14.53,12.6 -14.24,15.02 -13.92,17.4 -13.57,19.73 -13.19,22.01 -12.79,24.23 -12.37,26.38 -11.86,28.42 -11.33,30.38 -10.79,32.26 -10.23,34.06 -9.66,35.76 -9.15,37.43 -8.66,39.07 -8.16,40.62 -7.64,42.07 -7.11,43.43 -6.56,44.69 -6,45.84 -5.42,46.89 -4.84,47.83 -4.24,48.67 -3.64,49.39 -3.03,49.99 -2.41,50.49 -1.8,50.86 -1.18,51.13 -0.55,51.27 0.07,51.3 0.69,51.19 1.3,50.96 1.91,50.62 2.51,50.17 3.1,49.6 3.68,48.92 4.24,48.13 4.8,47.23 5.34,46.22 5.86,45.11 6.37,43.9 6.86,42.59 7.34,41.18 7.79,39.68 8.22,38.1 8.64,36.43 9.05,34.71 9.47,32.92 9.86,31.05 10.23,29.11 10.58,27.1 10.91,25.03 11.22,22.9 11.5,20.72 11.75,18.49 11.98,16.21 12.18,13.89 12.35,11.54 12.5,9.16 12.62,6.76 12.71,4.34 12.77,1.9 12.82,-0.54 12.91,-2.98 12.97,-5.43 13,-7.88 12.99,-10.32 12.96,-12.75 12.89,-15.15 12.79,-17.54 12.66,-19.89 12.49,-22.21 12.29,-24.49 12.06,-26.72 11.8,-28.89 11.5,-31.01 11.17,-33.07 10.81,-35.06 10.42,-36.98 9.99,-38.83 9.54,-40.59 9.05,-42.26 8.54,-43.85 8,-45.34 7.43,-46.72 6.83,-48 6.2,-49.17 5.55,-50.23 4.88,-51.18 4.2,-52.01 3.49,-52.73 2.77,-53.33 2.03,-53.82 1.28,-54.17 0.52,-54.41 -0.25,-54.52 -1.03,-54.48 -1.82,-54.33 -2.6,-54.04 -3.39,-53.64 -4.17,-53.11 -4.96,-52.46 -5.73,-51.68 -6.5,-50.79 -7.27,-49.77 -8.02,-48.64 -8.76,-47.4"/>
<polygon points="-20.35,0.7 -15.85,-14.2 -12.55,0 -16.45,-1.2"/>
<polygon points="-9.82,-46.57 -8.02,-53.37 -3.42,-52.17"/>
</g>
<g transform="translate(1371.8,663.5) rotate(180) scale(1.17)" fill="#17497a">
<polygon points="-9.22,-48.17 -8.48,-49.5 -7.71,-50.71 -6.93,-51.81 -6.14,-52.79 -5.33,-53.65 -4.51,-54.39 -3.67,-55 -2.83,-55.49 -1.99,-55.85 -1.14,-56.09 -0.28,-56.19 0.57,-56.17 1.43,-56.02 2.28,-55.74 3.12,-55.34 3.96,-54.81 4.79,-54.15 5.61,-53.37 6.41,-52.47 7.2,-51.45 7.98,-50.31 8.73,-49.06 9.47,-47.69 10.18,-46.22 10.87,-44.64 11.54,-42.96 12.18,-41.18 12.79,-39.31 13.38,-37.35 13.93,-35.3 14.45,-33.17 14.94,-30.97 15.39,-28.69 15.81,-26.35 16.19,-23.95 16.54,-21.5 16.85,-19 17.12,-16.45 17.35,-13.86 17.54,-11.25 17.69,-8.61 17.8,-5.95 17.87,-3.27 17.9,-0.59 17.89,2.1 17.84,4.77 17.74,7.44 17.61,10.09 17.44,12.72 17.22,15.32 16.97,17.88 16.68,20.41 16.35,22.88 15.98,25.31 15.58,27.67 15.14,29.98 14.67,32.21 14.16,34.37 13.62,36.46 13.05,38.46 12.45,40.37 11.82,42.19 11.17,43.92 10.49,45.54 9.78,47.06 9.06,48.47 8.31,49.78 7.54,50.96 6.76,52.04 5.96,52.99 5.15,53.82 4.32,54.53 3.49,55.12 2.65,55.58 1.8,55.91 0.95,56.12 0.09,56.2 -0.76,56.15 -1.61,55.97 -2.46,55.67 -3.31,55.23 -4.14,54.67 -4.97,53.99 -5.78,53.18 -6.59,52.26 -7.37,51.21 -8.14,50.05 -8.9,48.77 -9.63,47.38 -10.34,45.88 -11.02,44.28 -11.68,42.58 -12.32,40.78 -12.92,38.89 -13.5,36.9 -14.05,34.84 -14.56,32.69 -15.04,30.47 -15.49,28.18 -15.9,25.83 -16.27,23.42 -16.61,20.95 -16.91,18.44 -17.17,15.88 -17.39,13.29 -17.57,10.67 -17.72,8.02 -17.82,5.36 -17.88,2.68 -17.9,0 -14.7,0 -14.52,2.52 -14.31,5.02 -14.06,7.5 -13.81,9.94 -13.57,12.36 -13.31,14.75 -13.02,17.09 -12.7,19.38 -12.35,21.62 -11.98,23.81 -11.59,25.93 -11.21,28 -10.81,30.01 -10.38,31.95 -9.94,33.8 -9.48,35.58 -9.01,37.29 -8.54,38.93 -8.06,40.49 -7.55,41.95 -7.03,43.31 -6.49,44.57 -5.94,45.74 -5.38,46.79 -4.8,47.75 -4.21,48.59 -3.62,49.32 -3.02,49.94 -2.41,50.44 -1.79,50.83 -1.17,51.1 -0.55,51.26 0.07,51.3 0.69,51.19 1.3,50.96 1.91,50.62 2.51,50.17 3.1,49.6 3.68,48.92 4.24,48.13 4.8,47.23 5.34,46.22 5.86,45.11 6.37,43.9 6.86,42.59 7.34,41.18 7.79,39.68 8.22,38.1 8.64,36.43 9.05,34.71 9.47,32.92 9.86,31.05 10.23,29.11 10.58,27.1 10.91,25.03 11.22,22.9 11.5,20.72 11.75,18.49 11.98,16.21 12.18,13.89 12.35,11.54 12.5,9.16 12.62,6.76 12.71,4.34 12.77,1.9 12.82,-0.54 12.91,-2.98 12.97,-5.43 13,-7.88 12.99,-10.32 12.96,-12.75 12.89,-15.15 12.79,-17.54 12.66,-19.89 12.49,-22.21 12.29,-24.49 12.06,-26.72 11.8,-28.89 11.5,-31.01 11.17,-33.07 10.81,-35.06 10.42,-36.98 9.99,-38.83 9.54,-40.59 9.05,-42.26 8.54,-43.85 8,-45.34 7.43,-46.72 6.83,-48 6.2,-49.17 5.55,-50.23 4.88,-51.18 4.2,-52.01 3.49,-52.73 2.77,-53.33 2.03,-53.82 1.28,-54.17 0.52,-54.41 -0.25,-54.52 -1.03,-54.48 -1.82,-54.33 -2.6,-54.04 -3.39,-53.64 -4.17,-53.11 -4.96,-52.46 -5.73,-51.68 -6.5,-50.79 -7.27,-49.77 -8.02,-48.64 -8.76,-47.4"/>
<polygon points="-20.35,0.7 -15.85,-14.2 -12.55,0 -16.45,-1.2"/>
<polygon points="-9.82,-46.57 -8.02,-53.37 -3.42,-52.17"/>
</g>
<g transform="translate(1259.0,623.8)">
<rect x="0" y="0" width="28.9" height="78.4" rx="2.2" fill="#fff" stroke="#27568a" stroke-width="1.4"/>
<path d="M0,25.8 h28.9 M0,52.2 h28.9" stroke="#27568a" stroke-width="1.4"/>
<rect x="30.67" y="0" width="28.9" height="78.4" rx="2.2" fill="#fff" stroke="#27568a" stroke-width="1.4"/>
<path d="M30.67,25.8 h28.9 M30.67,52.2 h28.9" stroke="#27568a" stroke-width="1.4"/>
<rect x="61.33" y="0" width="28.9" height="78.4" rx="2.2" fill="#fff" stroke="#27568a" stroke-width="1.4"/>
<path d="M61.33,25.8 h28.9 M61.33,52.2 h28.9" stroke="#27568a" stroke-width="1.4"/>
<rect x="92" y="0" width="28.9" height="78.4" rx="2.2" fill="#fff" stroke="#27568a" stroke-width="1.4"/>
<path d="M92,25.8 h28.9 M92,52.2 h28.9" stroke="#27568a" stroke-width="1.4"/>
<text transform="translate(14.45,16.7) scale(1.1,1)" font-size="19.5" text-anchor="middle" fill="#17497a" stroke="#17497a" stroke-width="0.35">8</text>
<text transform="translate(45.12,16.7) scale(1.1,1)" font-size="19.5" text-anchor="middle" fill="#17497a" stroke="#17497a" stroke-width="0.35">4</text>
<text transform="translate(75.78,16.7) scale(1.1,1)" font-size="19.5" text-anchor="middle" fill="#17497a" stroke="#17497a" stroke-width="0.35">9</text>
<text transform="translate(106.45,16.7) scale(1.1,1)" font-size="19.5" text-anchor="middle" fill="#17497a" stroke="#17497a" stroke-width="0.35">5</text>
<text transform="translate(14.45,46.5) scale(1.1,1)" font-size="19.5" text-anchor="middle" fill="#17497a" stroke="#17497a" stroke-width="0.35">7</text>
<text transform="translate(45.12,46.5) scale(1.1,1)" font-size="19.5" text-anchor="middle" fill="#17497a" stroke="#17497a" stroke-width="0.35">3</text>
<text transform="translate(75.78,46.5) scale(1.1,1)" font-size="19.5" text-anchor="middle" fill="#17497a" stroke="#17497a" stroke-width="0.35">0</text>
<text transform="translate(106.45,46.5) scale(1.1,1)" font-size="19.5" text-anchor="middle" fill="#17497a" stroke="#17497a" stroke-width="0.35">4</text>
<text transform="translate(14.45,75.4) scale(1.1,1)" font-size="19.5" text-anchor="middle" fill="#17497a" stroke="#17497a" stroke-width="0.35">6</text>
<text transform="translate(45.12,75.4) scale(1.1,1)" font-size="19.5" text-anchor="middle" fill="#17497a" stroke="#17497a" stroke-width="0.35">2</text>
<text transform="translate(75.78,75.4) scale(1.1,1)" font-size="19.5" text-anchor="middle" fill="#17497a" stroke="#17497a" stroke-width="0.35">1</text>
<text transform="translate(106.45,75.4) scale(1.1,1)" font-size="19.5" text-anchor="middle" fill="#17497a" stroke="#17497a" stroke-width="0.35">3</text>
</g>
<text y="831" font-size="19.3" font-weight="normal" fill="#2c2e38" stroke="#2c2e38" stroke-width="0.55"><tspan x="1180.4" textLength="120.7" lengthAdjust="spacingAndGlyphs">WYMIESZAJ</tspan> <tspan x="1309.8" textLength="64.1" lengthAdjust="spacingAndGlyphs">SZYFR</tspan> <tspan x="1383.4" textLength="18.7" lengthAdjust="spacingAndGlyphs">W</tspan> <tspan x="1409.4" textLength="51.9" lengthAdjust="spacingAndGlyphs">CELU</tspan></text>
<text y="855.3" font-size="19.3" font-weight="normal" fill="#2c2e38" stroke="#2c2e38" stroke-width="0.55"><tspan x="1184.2" textLength="167.1" lengthAdjust="spacingAndGlyphs">ZABLOKOWANIA</tspan> <tspan x="1359.1" textLength="97" lengthAdjust="spacingAndGlyphs">ZAPIĘCIA.</tspan></text>
<rect x="1785" y="118" width="8" height="1" fill="#d4d4d4"/>
<rect x="1611" y="552" width="1" height="3" fill="#d0d0d0"/>
</svg>
</body></html>
